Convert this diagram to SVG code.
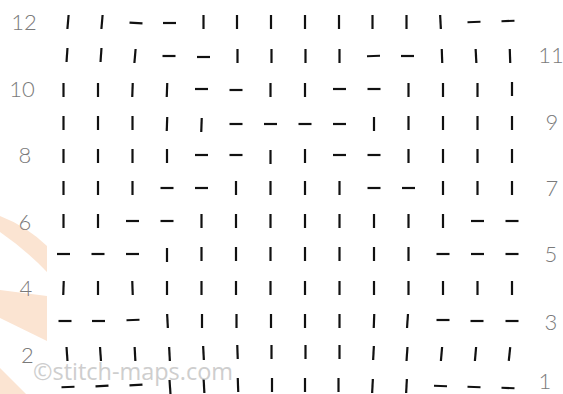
<svg xmlns="http://www.w3.org/2000/svg" xmlns:xlink="http://www.w3.org/1999/xlink" width="563" height="394" viewBox="0 0 563 394">
<style>
.m{stroke:#111;stroke-width:2.2;stroke-linecap:butt;fill:none}
.lab{font-family:Lato,"Liberation Sans",sans-serif;font-weight:300;font-size:22px;fill:#7a7a7a;text-anchor:middle}
.wm{font-family:"Open Sans","Liberation Sans",sans-serif;font-size:24px;fill:#c2c2c2;opacity:0.8}
.bg{fill:#fbe4d2}
</style>
<defs>
<line id="v" class="m" x1="0" y1="-7" x2="0" y2="7"/>
<line id="h" class="m" x1="-6.5" y1="0" x2="6.5" y2="0"/>
</defs>
<rect width="563" height="394" fill="#fff"/>
<g id="logo">
<path class="bg" d="M0,216 Q26,226 47,246 L47,272 Q26,250 0,232 Z"/>
<path class="bg" d="M0,290 L47,296 L47,341 L0,318 Z"/>
<path class="bg" d="M0,368 L26,394 L0,394 Z"/>
</g>
<g id="row12">
<use xlink:href="#v" transform="translate(68,22) rotate(5)"/>
<use xlink:href="#v" transform="translate(102,22) rotate(5)"/>
<use xlink:href="#h" transform="translate(136,23) rotate(3)"/>
<use xlink:href="#h" transform="translate(169.5,23)"/>
<use xlink:href="#v" transform="translate(203.5,22)"/>
<use xlink:href="#v" transform="translate(237,22)"/>
<use xlink:href="#v" transform="translate(271,22)"/>
<use xlink:href="#v" transform="translate(305,22)"/>
<use xlink:href="#v" transform="translate(339,22)"/>
<use xlink:href="#v" transform="translate(372.5,22)"/>
<use xlink:href="#v" transform="translate(406.5,22)"/>
<use xlink:href="#v" transform="translate(440.5,22) rotate(-3)"/>
<use xlink:href="#h" transform="translate(474,22) rotate(-2)"/>
<use xlink:href="#h" transform="translate(508,21) rotate(-2)"/>
</g>
<g id="row11">
<use xlink:href="#v" transform="translate(67,55) rotate(4)"/>
<use xlink:href="#v" transform="translate(101,55) rotate(4)"/>
<use xlink:href="#v" transform="translate(135,56) rotate(5)"/>
<use xlink:href="#h" transform="translate(169,56)"/>
<use xlink:href="#h" transform="translate(203.5,57)"/>
<use xlink:href="#v" transform="translate(237.5,56)"/>
<use xlink:href="#v" transform="translate(271.5,56)"/>
<use xlink:href="#v" transform="translate(305.5,56)"/>
<use xlink:href="#v" transform="translate(339.5,56)"/>
<use xlink:href="#h" transform="translate(373.5,56) rotate(-2)"/>
<use xlink:href="#h" transform="translate(407.5,56)"/>
<use xlink:href="#v" transform="translate(442,56) rotate(-2)"/>
<use xlink:href="#v" transform="translate(476,56) rotate(-3)"/>
<use xlink:href="#v" transform="translate(510,56) rotate(-2)"/>
</g>
<g id="row10">
<use xlink:href="#v" transform="translate(63.5,90)"/>
<use xlink:href="#v" transform="translate(98,90)"/>
<use xlink:href="#v" transform="translate(132.5,90) rotate(2)"/>
<use xlink:href="#v" transform="translate(167,90) rotate(2)"/>
<use xlink:href="#h" transform="translate(201.5,89)"/>
<use xlink:href="#h" transform="translate(236,90)"/>
<use xlink:href="#v" transform="translate(270.5,90)"/>
<use xlink:href="#v" transform="translate(305,90)"/>
<use xlink:href="#h" transform="translate(339.5,89)"/>
<use xlink:href="#h" transform="translate(374,89)"/>
<use xlink:href="#v" transform="translate(408.5,90)"/>
<use xlink:href="#v" transform="translate(443,90)"/>
<use xlink:href="#v" transform="translate(477.5,90)"/>
<use xlink:href="#v" transform="translate(512,89)"/>
</g>
<g id="row9">
<use xlink:href="#v" transform="translate(63.5,123)"/>
<use xlink:href="#v" transform="translate(98,123)"/>
<use xlink:href="#v" transform="translate(132.5,123)"/>
<use xlink:href="#v" transform="translate(167,124) rotate(2)"/>
<use xlink:href="#v" transform="translate(201.5,125) rotate(2)"/>
<use xlink:href="#h" transform="translate(236,124)"/>
<use xlink:href="#h" transform="translate(270.5,124)"/>
<use xlink:href="#h" transform="translate(305,124)"/>
<use xlink:href="#h" transform="translate(339.5,124)"/>
<use xlink:href="#v" transform="translate(374,124)"/>
<use xlink:href="#v" transform="translate(408.5,123)"/>
<use xlink:href="#v" transform="translate(443,123)"/>
<use xlink:href="#v" transform="translate(477.5,123)"/>
<use xlink:href="#v" transform="translate(512,123)"/>
</g>
<g id="row8">
<use xlink:href="#v" transform="translate(63.5,156)"/>
<use xlink:href="#v" transform="translate(98,156)"/>
<use xlink:href="#v" transform="translate(132.5,156)"/>
<use xlink:href="#v" transform="translate(167,156)"/>
<use xlink:href="#h" transform="translate(201.5,155)"/>
<use xlink:href="#h" transform="translate(236,155)"/>
<use xlink:href="#v" transform="translate(270.5,157)"/>
<use xlink:href="#v" transform="translate(305,156)"/>
<use xlink:href="#h" transform="translate(339.5,155)"/>
<use xlink:href="#h" transform="translate(374,155)"/>
<use xlink:href="#v" transform="translate(408.5,156)"/>
<use xlink:href="#v" transform="translate(443,156)"/>
<use xlink:href="#v" transform="translate(477.5,156)"/>
<use xlink:href="#v" transform="translate(512,156)"/>
</g>
<g id="row7">
<use xlink:href="#v" transform="translate(63.5,188)"/>
<use xlink:href="#v" transform="translate(98,188)"/>
<use xlink:href="#v" transform="translate(132.5,188)"/>
<use xlink:href="#h" transform="translate(167,188)"/>
<use xlink:href="#h" transform="translate(201.5,188)"/>
<use xlink:href="#v" transform="translate(236,188)"/>
<use xlink:href="#v" transform="translate(270.5,188)"/>
<use xlink:href="#v" transform="translate(305,188)"/>
<use xlink:href="#v" transform="translate(339.5,188)"/>
<use xlink:href="#h" transform="translate(374,188)"/>
<use xlink:href="#h" transform="translate(408.5,188)"/>
<use xlink:href="#v" transform="translate(443,188)"/>
<use xlink:href="#v" transform="translate(477.5,188)"/>
<use xlink:href="#v" transform="translate(512,188)"/>
</g>
<g id="row6">
<use xlink:href="#v" transform="translate(63.5,221)"/>
<use xlink:href="#v" transform="translate(98,221)"/>
<use xlink:href="#h" transform="translate(132.5,221)"/>
<use xlink:href="#h" transform="translate(167,221)"/>
<use xlink:href="#v" transform="translate(201.5,221)"/>
<use xlink:href="#v" transform="translate(236,221)"/>
<use xlink:href="#v" transform="translate(270.5,221)"/>
<use xlink:href="#v" transform="translate(305,221)"/>
<use xlink:href="#v" transform="translate(339.5,221)"/>
<use xlink:href="#v" transform="translate(374,221)"/>
<use xlink:href="#v" transform="translate(408.5,221)"/>
<use xlink:href="#v" transform="translate(443,221)"/>
<use xlink:href="#h" transform="translate(477.5,221)"/>
<use xlink:href="#h" transform="translate(512,221)"/>
</g>
<g id="row5">
<use xlink:href="#h" transform="translate(63.5,254)"/>
<use xlink:href="#h" transform="translate(98,254)"/>
<use xlink:href="#h" transform="translate(132.5,254)"/>
<use xlink:href="#v" transform="translate(167,255)"/>
<use xlink:href="#v" transform="translate(201.5,254)"/>
<use xlink:href="#v" transform="translate(236,254)"/>
<use xlink:href="#v" transform="translate(270.5,254)"/>
<use xlink:href="#v" transform="translate(305,254)"/>
<use xlink:href="#v" transform="translate(339.5,254)"/>
<use xlink:href="#v" transform="translate(374,254)"/>
<use xlink:href="#v" transform="translate(408.5,254)"/>
<use xlink:href="#h" transform="translate(443,254)"/>
<use xlink:href="#h" transform="translate(477.5,254)"/>
<use xlink:href="#h" transform="translate(512,254)"/>
</g>
<g id="row4">
<use xlink:href="#v" transform="translate(63.5,288) rotate(2)"/>
<use xlink:href="#v" transform="translate(98,288)"/>
<use xlink:href="#v" transform="translate(132.5,288) rotate(-2)"/>
<use xlink:href="#v" transform="translate(167,288)"/>
<use xlink:href="#v" transform="translate(201.5,288)"/>
<use xlink:href="#v" transform="translate(236,288)"/>
<use xlink:href="#v" transform="translate(270.5,288)"/>
<use xlink:href="#v" transform="translate(305,288)"/>
<use xlink:href="#v" transform="translate(339.5,288)"/>
<use xlink:href="#v" transform="translate(374,288)"/>
<use xlink:href="#v" transform="translate(408.5,288)"/>
<use xlink:href="#v" transform="translate(443,288)"/>
<use xlink:href="#v" transform="translate(477.5,288)"/>
<use xlink:href="#v" transform="translate(512,288)"/>
</g>
<g id="row3">
<use xlink:href="#h" transform="translate(65,321)"/>
<use xlink:href="#h" transform="translate(98.5,321)"/>
<use xlink:href="#h" transform="translate(133,320) rotate(-2)"/>
<use xlink:href="#v" transform="translate(167.5,321) rotate(-3)"/>
<use xlink:href="#v" transform="translate(202,321)"/>
<use xlink:href="#v" transform="translate(236.5,321)"/>
<use xlink:href="#v" transform="translate(271,321)"/>
<use xlink:href="#v" transform="translate(305,321)"/>
<use xlink:href="#v" transform="translate(339.5,321)"/>
<use xlink:href="#v" transform="translate(374,321) rotate(2)"/>
<use xlink:href="#v" transform="translate(407.5,321) rotate(4)"/>
<use xlink:href="#h" transform="translate(443,320)"/>
<use xlink:href="#h" transform="translate(477,321)"/>
<use xlink:href="#h" transform="translate(512,321)"/>
</g>
<g id="row2">
<use xlink:href="#v" transform="translate(67,354) rotate(-4)"/>
<use xlink:href="#v" transform="translate(100.5,354) rotate(-4)"/>
<use xlink:href="#v" transform="translate(135,354) rotate(-3)"/>
<use xlink:href="#v" transform="translate(169.5,354) rotate(-3)"/>
<use xlink:href="#v" transform="translate(203.5,353) rotate(-3)"/>
<use xlink:href="#v" transform="translate(237.5,352) rotate(-2)"/>
<use xlink:href="#v" transform="translate(271.5,352)"/>
<use xlink:href="#v" transform="translate(305.5,352)"/>
<use xlink:href="#v" transform="translate(339.5,352)"/>
<use xlink:href="#v" transform="translate(373.5,353) rotate(3)"/>
<use xlink:href="#v" transform="translate(407,354) rotate(4)"/>
<use xlink:href="#v" transform="translate(441.5,354) rotate(5)"/>
<use xlink:href="#v" transform="translate(475.5,354) rotate(5)"/>
<use xlink:href="#v" transform="translate(509.5,354) rotate(6)"/>
</g>
<g id="row1">
<use xlink:href="#h" transform="translate(68,387) rotate(-2)"/>
<use xlink:href="#h" transform="translate(102,386) rotate(-3)"/>
<use xlink:href="#h" transform="translate(136,385) rotate(-3)"/>
<use xlink:href="#v" transform="translate(170,387) rotate(-4)"/>
<use xlink:href="#v" transform="translate(204,386) rotate(-3)"/>
<use xlink:href="#v" transform="translate(238,385) rotate(-2)"/>
<use xlink:href="#v" transform="translate(272,385)"/>
<use xlink:href="#v" transform="translate(305,385)"/>
<use xlink:href="#v" transform="translate(338.5,385)"/>
<use xlink:href="#v" transform="translate(372.5,386) rotate(3)"/>
<use xlink:href="#v" transform="translate(406.5,386) rotate(3)"/>
<use xlink:href="#h" transform="translate(440.5,386) rotate(2)"/>
<use xlink:href="#h" transform="translate(474,387) rotate(2)"/>
<use xlink:href="#h" transform="translate(508,388) rotate(2)"/>
</g>
<g id="labels">
<text class="lab" x="24" y="30">12</text>
<text class="lab" x="22" y="96.5">10</text>
<text class="lab" x="25" y="163">8</text>
<text class="lab" x="25" y="230">6</text>
<text class="lab" x="26" y="296">4</text>
<text class="lab" x="27.5" y="363">2</text>
<text class="lab" x="551" y="62.5">11</text>
<text class="lab" x="552" y="129.5">9</text>
<text class="lab" x="552" y="195.5">7</text>
<text class="lab" x="551" y="262">5</text>
<text class="lab" x="551" y="329.5">3</text>
<text class="lab" x="545" y="389">1</text>
</g>
<text id="watermark" class="wm" x="33" y="380" textLength="200" lengthAdjust="spacingAndGlyphs">©stitch-maps.com</text>
</svg>
